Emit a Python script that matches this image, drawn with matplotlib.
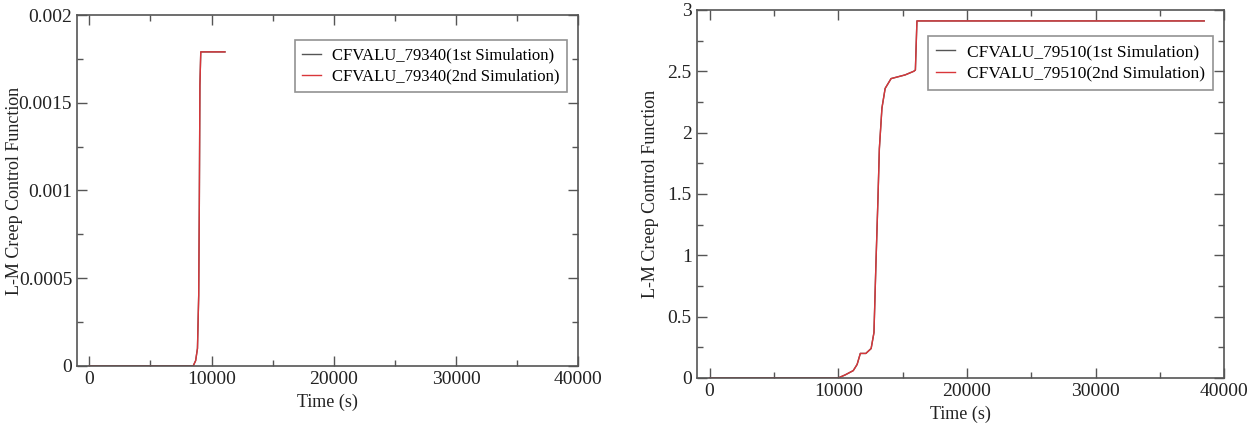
import matplotlib.pyplot as plt
from matplotlib.ticker import MultipleLocator

plt.rcParams['font.family'] = ['Liberation Serif', 'DejaVu Serif']

# node 79340: time (s) and creep function
t_79340 = [0, 8500, 8700, 8850, 8950, 9000, 9050, 9120, 11100]
cf_79340 = [0, 0, 0.00003, 0.0001, 0.0004, 0.0009, 0.0016, 0.00179, 0.00179]

# node 79510
t_79510 = [0, 10000, 10540, 11170, 11470, 11720, 12150, 12560, 12780, 12930,
           13090, 13200, 13400, 13650, 14110, 15200, 15880, 16000, 16120, 38450]
cf_79510 = [0, 0, 0.025, 0.06, 0.11, 0.2, 0.2, 0.24, 0.37, 0.92,
            1.46, 1.87, 2.2, 2.36, 2.44, 2.47, 2.5, 2.51, 2.91, 2.91]

y_ticks_79340 = [0, 0.0005, 0.001, 0.0015, 0.002]
y_labels_79340 = ['0', '0.0005', '0.001', '0.0015', '0.002']
y_ticks_79510 = [0, 0.5, 1, 1.5, 2, 2.5, 3]
y_labels_79510 = ['0', '0.5', '1', '1.5', '2', '2.5', '3']
x_ticks = [0, 10000, 20000, 30000, 40000]

col_1st = '#555555'
col_2nd = '#d9363a'
spine_col = '#555555'

fig = plt.figure(figsize=(12.53, 4.3), dpi=100)
ax1 = fig.add_axes([0.0615, 0.149, 0.400, 0.816])
ax2 = fig.add_axes([0.556, 0.121, 0.421, 0.856])


def style(ax, name, t, cf, yt, yl, ymax, minor_y, label_pad, leg_size):
    ax.plot(t, cf, color=col_1st, lw=1.0, label=name + '(1st Simulation)')
    ax.plot(t, cf, color=col_2nd, lw=1.0, label=name + '(2nd Simulation)')
    ax.set_xlim(-1000, 40000)
    ax.set_ylim(0, ymax)
    ax.set_xticks(x_ticks)
    ax.set_xticklabels([str(v) for v in x_ticks])
    ax.set_yticks(yt)
    ax.set_yticklabels(yl)
    ax.xaxis.set_minor_locator(MultipleLocator(5000))
    ax.yaxis.set_minor_locator(MultipleLocator(minor_y))
    ax.tick_params(which='both', direction='in', top=True, right=True,
                   color=spine_col, labelsize=14, colors='#222222')
    ax.tick_params(which='major', length=7, width=1)
    ax.tick_params(which='minor', length=4, width=1)
    for s in ax.spines.values():
        s.set_color(spine_col)
        s.set_linewidth(1.2)
    ax.set_xlabel('Time (s)', fontsize=13, color='#222222', labelpad=4)
    ax.set_ylabel('L-M Creep Control Function', fontsize=13, color='#222222',
                  labelpad=label_pad)
    leg = ax.legend(loc='upper right', bbox_to_anchor=(0.978, 0.928),
                    borderaxespad=0, fontsize=leg_size, frameon=True,
                    fancybox=False, handlelength=1.1, handletextpad=0.7,
                    borderpad=0.45, labelspacing=0.3, edgecolor='#777777')
    leg.get_frame().set_linewidth(1.2)


style(ax1, 'CFVALU_79340', t_79340, cf_79340, y_ticks_79340, y_labels_79340,
      0.002, 0.00025, -3, 12)
style(ax2, 'CFVALU_79510', t_79510, cf_79510, y_ticks_79510, y_labels_79510,
      3, 0.25, 6, 12.5)

fig.savefig('out.png', dpi=100)
